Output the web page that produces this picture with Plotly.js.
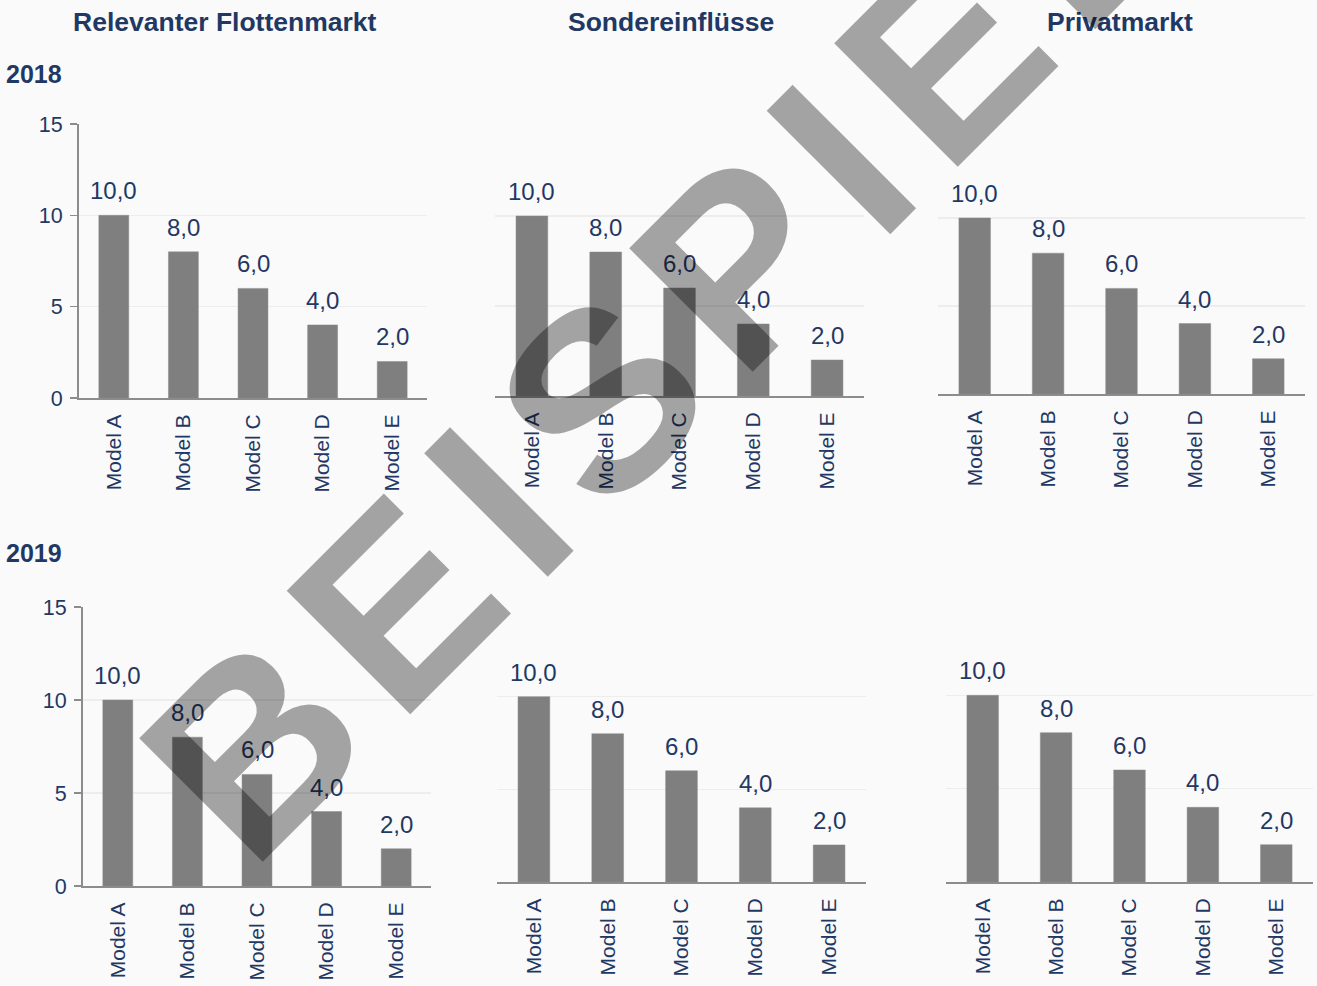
<!DOCTYPE html>
<html>
<head>
<meta charset="utf-8">
<script src="https://cdn.plot.ly/plotly-3.0.1.min.js"></script>
<style>
  html, body { margin: 0; padding: 0; background: #fafafa; }
  #chart { width: 1317px; height: 986px; }
</style>
</head>
<body>
<div id="chart"></div>
<script>
// ---- data ----
const categories = ['Model A', 'Model B', 'Model C', 'Model D', 'Model E'];
const columnTitles = ['Relevanter Flottenmarkt', 'Sondereinflüsse', 'Privatmarkt'];
const rowTitles = ['2018', '2019'];
const flotten2018 = [10, 8, 6, 4, 2];
const sonder2018 = [10, 8, 6, 4, 2];
const privat2018 = [10, 8, 6, 4, 2];
const flotten2019 = [10, 8, 6, 4, 2];
const sonder2019 = [10, 8, 6, 4, 2];
const privat2019 = [10, 8, 6, 4, 2];
const yTicks = [0, 5, 10, 15];
const watermarkText = 'BEISPIEL';

// ---- layout helpers ----
const W = 1317, H = 986;
const NAVY = '#1f3864';
const FONT = 'Liberation Sans, Arial, sans-serif';
const AXIS = '#8c8c8c';
const fx = (a, b) => [a / W, b / W];
const fy = (top, bottom) => [1 - bottom / H, 1 - top / H];
const fmt = v => v.toFixed(1).replace('.', ',');

const panels = [
  { vals: flotten2018, xpx: [79, 427], ypx: [124, 398], showY: true },
  { vals: sonder2018,  xpx: [495, 864], ypx: [126, 396], showY: false },
  { vals: privat2018,  xpx: [938, 1305], ypx: [130, 394], showY: false },
  { vals: flotten2019, xpx: [83, 431], ypx: [607, 886], showY: true },
  { vals: sonder2019,  xpx: [497, 866], ypx: [604, 882], showY: false },
  { vals: privat2019,  xpx: [946, 1313], ypx: [602, 882], showY: false }
];

const data = [];
const layout = {
  width: W, height: H,
  margin: { l: 0, r: 0, t: 0, b: 0, pad: 0 },
  paper_bgcolor: '#fafafa',
  plot_bgcolor: '#fafafa',
  showlegend: false,
  bargap: 0.57,
  font: { family: FONT, color: NAVY },
  annotations: []
};

panels.forEach((p, i) => {
  const n = i + 1;
  const xk = n === 1 ? 'xaxis' : 'xaxis' + n;
  const yk = n === 1 ? 'yaxis' : 'yaxis' + n;
  const xr = n === 1 ? 'x' : 'x' + n;
  const yr = n === 1 ? 'y' : 'y' + n;
  data.push({
    type: 'bar', x: categories, y: p.vals,
    xaxis: xr, yaxis: yr,
    marker: { color: '#7f7f7f', line: { color: '#8a8a8a', width: 0.5 } },
    hoverinfo: 'skip'
  });
  layout[xk] = {
    domain: fx(p.xpx[0], p.xpx[1]), anchor: yr,
    showline: true, linecolor: AXIS, linewidth: 2,
    ticks: 'outside', ticklen: 6, tickcolor: 'rgba(0,0,0,0)',
    tickangle: -90, tickfont: { family: FONT, size: 21, color: NAVY },
    showgrid: false, zeroline: false, fixedrange: true
  };
  layout[yk] = {
    domain: fy(p.ypx[0], p.ypx[1]), anchor: xr,
    range: [0, 15], tickvals: yTicks, ticktext: yTicks.map(String),
    showgrid: true, gridcolor: '#ededed', gridwidth: 1.5,
    zeroline: false,
    showline: p.showY, linecolor: AXIS, linewidth: 2,
    ticks: p.showY ? 'outside' : '', ticklen: 7, tickcolor: AXIS, tickwidth: 1.5,
    showticklabels: p.showY, ticklabelstandoff: 3,
    tickfont: { family: FONT, size: 21.5, color: NAVY },
    fixedrange: true
  };
  p.vals.forEach((v, j) => {
    layout.annotations.push({
      xref: xr, yref: yr, x: categories[j], y: v,
      text: fmt(v), showarrow: false,
      xanchor: 'center', yanchor: 'bottom', yshift: 9,
      font: { family: FONT, size: 24, color: NAVY }
    });
  });
});

// column titles
const titleX = [225, 671, 1120];
columnTitles.forEach((t, i) => {
  layout.annotations.push({
    xref: 'paper', yref: 'paper', x: titleX[i] / W, y: 1 - 22 / H,
    xanchor: 'center', yanchor: 'middle', showarrow: false,
    text: '<b>' + t + '</b>',
    font: { family: FONT, size: 26.5, color: NAVY }
  });
});
// row titles
const rowY = [74, 553];
rowTitles.forEach((t, i) => {
  layout.annotations.push({
    xref: 'paper', yref: 'paper', x: 4 / W, y: 1 - rowY[i] / H,
    xanchor: 'left', yanchor: 'middle', showarrow: false,
    text: '<b>' + t + '</b>',
    font: { family: FONT, size: 25, color: NAVY }
  });
});
// watermark
layout.annotations.push({
  xref: 'paper', yref: 'paper', x: 668 / W, y: 1 - 332 / H,
  xanchor: 'center', yanchor: 'middle', showarrow: false,
  text: '<span style="letter-spacing:25px"><b>' + watermarkText + '</b></span>', textangle: -45,
  font: { family: FONT, size: 254, color: 'rgba(0,0,0,0.35)' }
});

Plotly.newPlot('chart', data, layout, { displayModeBar: false, staticPlot: true });
</script>
</body>
</html>
